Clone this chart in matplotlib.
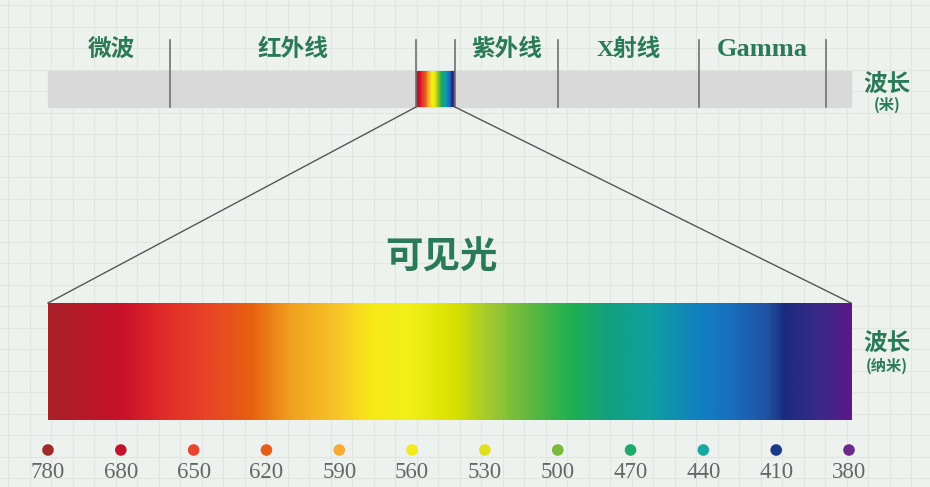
import numpy as np
import matplotlib
matplotlib.use("Agg")
import matplotlib.pyplot as plt
from matplotlib.colors import LinearSegmentedColormap
from matplotlib.patches import Rectangle

# ---- data ----
bands = ["微波", "红外线", "", "紫外线", "X射线", "Gamma"]
band_edges = [48, 170, 416, 455, 558, 699, 826]   # band boundaries on the top scale
wavelengths = [780, 680, 650, 620, 590, 560, 530, 500, 470, 440, 410, 380]
dot_colors = ["#a32a2c", "#c2142c", "#ea4230", "#e65d1c", "#f6ab34", "#f3ea1c",
              "#dfe021", "#79b93b", "#1fa96b", "#1aa7a2", "#1b3a8c", "#6b2a8c"]
# gradient stops: fraction along the visible bar and colour
grad_pos = [0.0, 0.09, 0.139, 0.189, 0.252, 0.301, 0.364, 0.401, 0.451, 0.507,
            0.55, 0.60, 0.65, 0.70, 0.75, 0.812, 0.849, 0.899, 0.918, 0.961, 1.0]
grad_cols = ["#a82028", "#c8102a", "#e02a28", "#e8402a", "#e86010", "#f0a020",
             "#f8c828", "#f8e818", "#f0f018", "#d8e000", "#a0c830", "#60b840",
             "#20b050", "#10a080", "#10a0a0", "#1080c0", "#1870c0", "#2050a0",
             "#1a2a80", "#3a2a88", "#5a1a8a"]

GREEN = "#2b7a57"
GRAY_TXT = "#666666"
CJK = ["Noto Sans CJK SC", "DejaVu Sans"]
SERIF_CJK = ["Liberation Serif", "Noto Sans CJK SC"]

W, H = 930, 487
fig = plt.figure(figsize=(W / 100, H / 100), dpi=100)
ax = fig.add_axes([0, 0, 1, 1])
ax.set_xlim(0, W)
ax.set_ylim(H, 0)
ax.axis("off")

# background with faint grid
ax.add_patch(Rectangle((0, 0), W, H, color="#eef2ee", zorder=0))
for gx in np.arange(8, W, 21.5):
    ax.plot([gx, gx], [0, H], color="#e0e6e0", lw=0.8, zorder=0.5)
for gy in np.arange(5, H, 21.5):
    ax.plot([0, W], [gy, gy], color="#e0e6e0", lw=0.8, zorder=0.5)

# ---- top electromagnetic scale ----
x0, x1 = band_edges[0], 851
ax.add_patch(Rectangle((x0, 71), x1 - x0, 36, color="#d9d9d9", zorder=1))
cmap = LinearSegmentedColormap.from_list("spec", list(zip(grad_pos, grad_cols)))
grad = np.linspace(0, 1, 800)[None, :]
vis_l, vis_r = band_edges[2], band_edges[3]
ax.imshow(grad, cmap=cmap, aspect="auto", extent=[vis_l, vis_r, 107, 71], zorder=2,
          interpolation="bilinear")
for e in band_edges[1:]:
    ax.plot([e, e], [40, 107], color="#707070", lw=1.2, zorder=3)
for i, name in enumerate(bands):
    if not name:
        continue
    cx = (band_edges[i] + band_edges[i + 1]) / 2
    if name == "微波":
        cx = 111
    fs = 19 if name == "Gamma" else 17
    ax.text(cx, 50, name, ha="center", va="center", fontsize=fs, fontweight="bold",
            color=GREEN, family=SERIF_CJK, zorder=4)
ax.text(887, 84, "波长", ha="center", va="center", fontsize=17, fontweight="bold",
        color=GREEN, family=CJK)
ax.text(887, 105, "(米)", ha="center", va="center", fontsize=11, fontweight="bold",
        color=GREEN, family=CJK)

# ---- zoom lines ----
bx0, bx1, by0, by1 = 48, 851, 303, 420
ax.plot([vis_l, bx0], [107, by0], color="#555555", lw=1.0, zorder=3)
ax.plot([vis_r, bx1], [107, by0], color="#555555", lw=1.0, zorder=3)

ax.text(441, 257, "可见光", ha="center", va="center", fontsize=27, fontweight="bold",
        color=GREEN, family=CJK)

# ---- visible spectrum bar ----
ax.imshow(grad, cmap=cmap, aspect="auto", extent=[bx0, bx1, by1, by0], zorder=2,
          interpolation="bilinear")

# ---- wavelength dots ----
xs = np.linspace(48, 849, len(wavelengths))
ax.scatter(xs, [450] * len(xs), s=70, c=dot_colors, zorder=4, edgecolors="none")
for x, wl in zip(xs, wavelengths):
    ax.text(x, 472, str(wl), ha="center", va="center", fontsize=16.5,
            color=GRAY_TXT, family="Liberation Serif")

ax.text(887, 343, "波长", ha="center", va="center", fontsize=17, fontweight="bold",
        color=GREEN, family=CJK)
ax.text(887, 366, "(纳米)", ha="center", va="center", fontsize=11, fontweight="bold",
        color=GREEN, family=CJK)

fig.savefig("out.png", dpi=100)
